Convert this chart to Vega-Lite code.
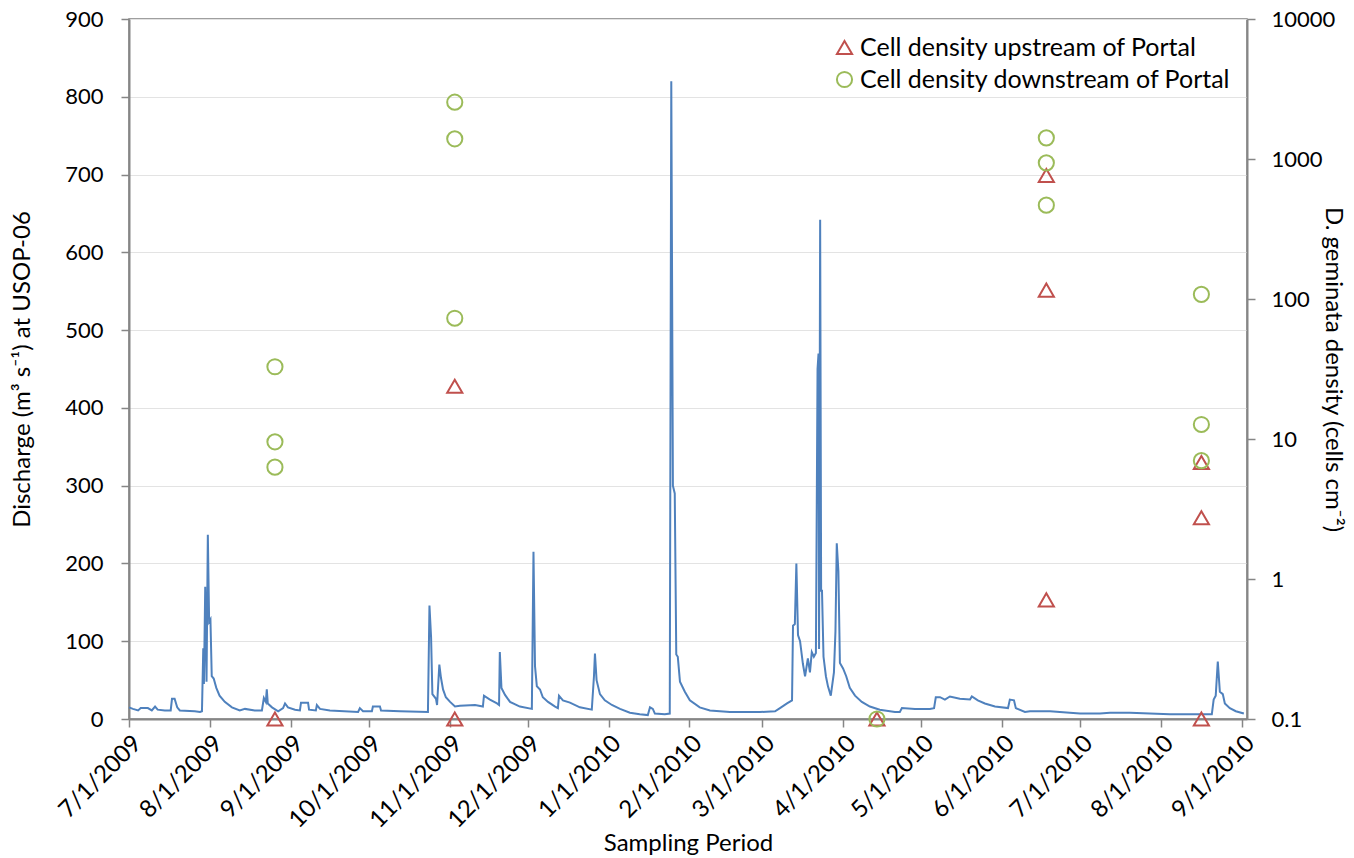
{
  "$schema": "https://vega.github.io/schema/vega-lite/v6.json",
  "width": 1118,
  "height": 700,
  "autosize": {"type": "none"},
  "padding": {"left": 129, "top": 19, "right": 107, "bottom": 139},
  "config": {
    "font": "Lato",
    "view": {"stroke": "#808080", "strokeWidth": 1.5},
    "axis": {
      "labelFont": "Lato",
      "labelFontSize": 22,
      "labelColor": "#000000",
      "titleFont": "Lato",
      "titleFontSize": 24,
      "titleFontWeight": "normal",
      "titleColor": "#000000",
      "domainColor": "#868686",
      "domainWidth": 2,
      "tickColor": "#868686",
      "tickWidth": 1.5,
      "tickSize": 8,
      "gridColor": "#E3E3E3",
      "gridWidth": 1
    }
  },
  "layer": [
    {
      "data": {
        "values": [
          {"date": "2009-07-01T00:00", "discharge": 15},
          {"date": "2009-07-02T12:00", "discharge": 13},
          {"date": "2009-07-04T12:00", "discharge": 11},
          {"date": "2009-07-05T12:00", "discharge": 14},
          {"date": "2009-07-08T06:00", "discharge": 14},
          {"date": "2009-07-09T18:00", "discharge": 11},
          {"date": "2009-07-11T00:00", "discharge": 16},
          {"date": "2009-07-12T00:00", "discharge": 12},
          {"date": "2009-07-14T18:00", "discharge": 11},
          {"date": "2009-07-17T00:00", "discharge": 11},
          {"date": "2009-07-17T12:00", "discharge": 26},
          {"date": "2009-07-18T12:00", "discharge": 26},
          {"date": "2009-07-19T12:00", "discharge": 15},
          {"date": "2009-07-20T12:00", "discharge": 11},
          {"date": "2009-07-26T06:00", "discharge": 10},
          {"date": "2009-07-28T06:00", "discharge": 9},
          {"date": "2009-07-29T00:00", "discharge": 10},
          {"date": "2009-07-29T12:00", "discharge": 91},
          {"date": "2009-07-29T18:00", "discharge": 45},
          {"date": "2009-07-30T06:00", "discharge": 170},
          {"date": "2009-07-30T18:00", "discharge": 48},
          {"date": "2009-07-31T06:00", "discharge": 237},
          {"date": "2009-07-31T18:00", "discharge": 125},
          {"date": "2009-08-01T06:00", "discharge": 128},
          {"date": "2009-08-01T18:00", "discharge": 55},
          {"date": "2009-08-02T12:00", "discharge": 52},
          {"date": "2009-08-03T12:00", "discharge": 40},
          {"date": "2009-08-04T18:00", "discharge": 30},
          {"date": "2009-08-06T18:00", "discharge": 22},
          {"date": "2009-08-09T12:00", "discharge": 15},
          {"date": "2009-08-12T12:00", "discharge": 11},
          {"date": "2009-08-14T12:00", "discharge": 13},
          {"date": "2009-08-18T06:00", "discharge": 11},
          {"date": "2009-08-21T00:00", "discharge": 11},
          {"date": "2009-08-21T18:00", "discharge": 27},
          {"date": "2009-08-22T12:00", "discharge": 22},
          {"date": "2009-08-22T21:00", "discharge": 38},
          {"date": "2009-08-23T06:00", "discharge": 20},
          {"date": "2009-08-24T21:00", "discharge": 15},
          {"date": "2009-08-27T06:00", "discharge": 10},
          {"date": "2009-08-29T03:00", "discharge": 14},
          {"date": "2009-08-29T21:00", "discharge": 20},
          {"date": "2009-08-31T00:00", "discharge": 15},
          {"date": "2009-09-02T17:00", "discharge": 12},
          {"date": "2009-09-04T14:00", "discharge": 11},
          {"date": "2009-09-05T00:00", "discharge": 21},
          {"date": "2009-09-07T17:00", "discharge": 21},
          {"date": "2009-09-08T02:00", "discharge": 12},
          {"date": "2009-09-10T17:00", "discharge": 11},
          {"date": "2009-09-11T02:00", "discharge": 18},
          {"date": "2009-09-12T07:00", "discharge": 13},
          {"date": "2009-09-16T02:00", "discharge": 11},
          {"date": "2009-09-26T22:00", "discharge": 9},
          {"date": "2009-09-27T14:00", "discharge": 14},
          {"date": "2009-09-28T19:00", "discharge": 10},
          {"date": "2009-10-02T05:00", "discharge": 10},
          {"date": "2009-10-02T14:00", "discharge": 16},
          {"date": "2009-10-05T07:00", "discharge": 16},
          {"date": "2009-10-05T17:00", "discharge": 11},
          {"date": "2009-10-13T00:00", "discharge": 10},
          {"date": "2009-10-23T17:00", "discharge": 9},
          {"date": "2009-10-24T07:00", "discharge": 146},
          {"date": "2009-10-24T22:00", "discharge": 105},
          {"date": "2009-10-25T10:00", "discharge": 32},
          {"date": "2009-10-26T19:00", "discharge": 26},
          {"date": "2009-10-27T05:00", "discharge": 18},
          {"date": "2009-10-28T02:00", "discharge": 70},
          {"date": "2009-10-28T17:00", "discharge": 53},
          {"date": "2009-10-29T12:00", "discharge": 38},
          {"date": "2009-10-30T14:00", "discharge": 28},
          {"date": "2009-11-01T05:00", "discharge": 22},
          {"date": "2009-11-03T02:00", "discharge": 16},
          {"date": "2009-11-05T00:00", "discharge": 17},
          {"date": "2009-11-10T19:00", "discharge": 18},
          {"date": "2009-11-13T19:00", "discharge": 16},
          {"date": "2009-11-14T05:00", "discharge": 30},
          {"date": "2009-11-16T12:00", "discharge": 25},
          {"date": "2009-11-19T05:00", "discharge": 20},
          {"date": "2009-11-20T00:00", "discharge": 18},
          {"date": "2009-11-20T07:00", "discharge": 86},
          {"date": "2009-11-20T22:00", "discharge": 40},
          {"date": "2009-11-22T07:00", "discharge": 31},
          {"date": "2009-11-24T05:00", "discharge": 22},
          {"date": "2009-11-28T00:00", "discharge": 16},
          {"date": "2009-12-02T14:00", "discharge": 13},
          {"date": "2009-12-03T05:00", "discharge": 215},
          {"date": "2009-12-03T19:00", "discharge": 68},
          {"date": "2009-12-04T12:00", "discharge": 42},
          {"date": "2009-12-05T17:00", "discharge": 38},
          {"date": "2009-12-06T19:00", "discharge": 28},
          {"date": "2009-12-08T19:00", "discharge": 22},
          {"date": "2009-12-11T12:00", "discharge": 16},
          {"date": "2009-12-12T14:00", "discharge": 14},
          {"date": "2009-12-13T00:00", "discharge": 30},
          {"date": "2009-12-14T12:00", "discharge": 24},
          {"date": "2009-12-17T05:00", "discharge": 21},
          {"date": "2009-12-21T00:00", "discharge": 15},
          {"date": "2009-12-25T14:00", "discharge": 12},
          {"date": "2009-12-26T10:00", "discharge": 55},
          {"date": "2009-12-26T19:00", "discharge": 84},
          {"date": "2009-12-27T10:00", "discharge": 50},
          {"date": "2009-12-28T17:00", "discharge": 32},
          {"date": "2009-12-30T14:00", "discharge": 24},
          {"date": "2010-01-02T07:00", "discharge": 18},
          {"date": "2010-01-05T10:00", "discharge": 13},
          {"date": "2010-01-09T05:00", "discharge": 8},
          {"date": "2010-01-13T00:00", "discharge": 6},
          {"date": "2010-01-16T02:00", "discharge": 5},
          {"date": "2010-01-16T22:00", "discharge": 15},
          {"date": "2010-01-18T00:00", "discharge": 13},
          {"date": "2010-01-18T19:00", "discharge": 7},
          {"date": "2010-01-22T14:00", "discharge": 6},
          {"date": "2010-01-24T12:00", "discharge": 7},
          {"date": "2010-01-25T02:00", "discharge": 820},
          {"date": "2010-01-25T17:00", "discharge": 300},
          {"date": "2010-01-26T10:00", "discharge": 290},
          {"date": "2010-01-27T00:00", "discharge": 83},
          {"date": "2010-01-27T14:00", "discharge": 80},
          {"date": "2010-01-28T10:00", "discharge": 48},
          {"date": "2010-01-30T07:00", "discharge": 35},
          {"date": "2010-02-01T05:00", "discharge": 24},
          {"date": "2010-02-05T00:00", "discharge": 15},
          {"date": "2010-02-08T22:00", "discharge": 11},
          {"date": "2010-02-16T14:00", "discharge": 9},
          {"date": "2010-02-28T02:00", "discharge": 9},
          {"date": "2010-03-05T22:00", "discharge": 10},
          {"date": "2010-03-07T19:00", "discharge": 14},
          {"date": "2010-03-10T12:00", "discharge": 20},
          {"date": "2010-03-12T10:00", "discharge": 24},
          {"date": "2010-03-12T19:00", "discharge": 120},
          {"date": "2010-03-13T12:00", "discharge": 122},
          {"date": "2010-03-14T02:00", "discharge": 200},
          {"date": "2010-03-14T17:00", "discharge": 108},
          {"date": "2010-03-15T12:00", "discharge": 100},
          {"date": "2010-03-16T14:00", "discharge": 71},
          {"date": "2010-03-17T10:00", "discharge": 55},
          {"date": "2010-03-18T12:00", "discharge": 78},
          {"date": "2010-03-19T07:00", "discharge": 60},
          {"date": "2010-03-20T00:00", "discharge": 86},
          {"date": "2010-03-20T19:00", "discharge": 80},
          {"date": "2010-03-21T14:00", "discharge": 85},
          {"date": "2010-03-22T05:00", "discharge": 450},
          {"date": "2010-03-22T14:00", "discharge": 470},
          {"date": "2010-03-22T19:00", "discharge": 90},
          {"date": "2010-03-23T05:00", "discharge": 642},
          {"date": "2010-03-23T14:00", "discharge": 165},
          {"date": "2010-03-23T22:00", "discharge": 165},
          {"date": "2010-03-24T12:00", "discharge": 80},
          {"date": "2010-03-25T10:00", "discharge": 55},
          {"date": "2010-03-26T05:00", "discharge": 42},
          {"date": "2010-03-27T07:00", "discharge": 30},
          {"date": "2010-03-28T12:00", "discharge": 60},
          {"date": "2010-03-29T02:00", "discharge": 113},
          {"date": "2010-03-29T14:00", "discharge": 226},
          {"date": "2010-03-30T05:00", "discharge": 190},
          {"date": "2010-03-30T19:00", "discharge": 72},
          {"date": "2010-04-01T00:00", "discharge": 65},
          {"date": "2010-04-02T05:00", "discharge": 55},
          {"date": "2010-04-03T14:00", "discharge": 40},
          {"date": "2010-04-05T14:00", "discharge": 30},
          {"date": "2010-04-08T05:00", "discharge": 22},
          {"date": "2010-04-11T07:00", "discharge": 16},
          {"date": "2010-04-15T02:00", "discharge": 12},
          {"date": "2010-04-20T22:00", "discharge": 9},
          {"date": "2010-04-22T19:00", "discharge": 9},
          {"date": "2010-04-23T14:00", "discharge": 14},
          {"date": "2010-04-28T14:00", "discharge": 13},
          {"date": "2010-05-04T07:00", "discharge": 13},
          {"date": "2010-05-05T22:00", "discharge": 14},
          {"date": "2010-05-06T14:00", "discharge": 28},
          {"date": "2010-05-08T05:00", "discharge": 28},
          {"date": "2010-05-10T02:00", "discharge": 25},
          {"date": "2010-05-12T00:00", "discharge": 29},
          {"date": "2010-05-15T19:00", "discharge": 26},
          {"date": "2010-05-19T17:00", "discharge": 25},
          {"date": "2010-05-20T10:00", "discharge": 29},
          {"date": "2010-05-22T17:00", "discharge": 24},
          {"date": "2010-05-25T10:00", "discharge": 20},
          {"date": "2010-05-29T07:00", "discharge": 16},
          {"date": "2010-06-03T07:00", "discharge": 14},
          {"date": "2010-06-04T00:00", "discharge": 25},
          {"date": "2010-06-05T14:00", "discharge": 24},
          {"date": "2010-06-06T07:00", "discharge": 14},
          {"date": "2010-06-09T19:00", "discharge": 9},
          {"date": "2010-06-11T17:00", "discharge": 10},
          {"date": "2010-06-19T10:00", "discharge": 10},
          {"date": "2010-06-27T00:00", "discharge": 8},
          {"date": "2010-06-30T22:00", "discharge": 7},
          {"date": "2010-07-08T14:00", "discharge": 7},
          {"date": "2010-07-12T10:00", "discharge": 8},
          {"date": "2010-07-20T02:00", "discharge": 8},
          {"date": "2010-07-27T17:00", "discharge": 7},
          {"date": "2010-08-04T10:00", "discharge": 6},
          {"date": "2010-08-14T00:00", "discharge": 6},
          {"date": "2010-08-20T12:00", "discharge": 6},
          {"date": "2010-08-21T05:00", "discharge": 25},
          {"date": "2010-08-22T00:00", "discharge": 30},
          {"date": "2010-08-22T19:00", "discharge": 74},
          {"date": "2010-08-23T14:00", "discharge": 35},
          {"date": "2010-08-24T17:00", "discharge": 32},
          {"date": "2010-08-25T12:00", "discharge": 20},
          {"date": "2010-08-27T10:00", "discharge": 14},
          {"date": "2010-08-29T17:00", "discharge": 10},
          {"date": "2010-09-01T19:00", "discharge": 7}
        ]
      },
      "mark": {"type": "line", "color": "#4F81BD", "strokeWidth": 2},
      "encoding": {
        "x": {
          "field": "date",
          "type": "temporal",
          "scale": {"domain": ["2009-07-01T00:00", "2010-09-03T00:00"]},
          "axis": {
            "title": "Sampling Period",
            "format": "%-m/%-d/%Y",
            "tickCount": {"interval": "month", "step": 1},
            "labelAngle": -45,
            "labelFontSize": 24,
            "labelPadding": 4,
            "labelOverlap": false,
            "labelBound": false,
            "grid": false,
            "titleFontSize": 24,
            "titlePadding": -1
          }
        },
        "y": {
          "field": "discharge",
          "type": "quantitative",
          "scale": {"domain": [0, 900]},
          "axis": {
            "title": "Discharge (m³ s⁻¹) at USOP-06",
            "values": [0, 100, 200, 300, 400, 500, 600, 700, 800, 900],
            "labelPadding": 18,
            "titlePadding": 30,
            "grid": true
          }
        }
      }
    },
    {
      "data": {
        "values": [
          {"date": "2009-08-26T00:00", "series": "Cell density upstream of Portal", "density": 0.1},
          {"date": "2009-11-03T00:00", "series": "Cell density upstream of Portal", "density": 0.1},
          {"date": "2009-11-03T00:00", "series": "Cell density upstream of Portal", "density": 23.8},
          {"date": "2010-04-14T00:00", "series": "Cell density upstream of Portal", "density": 0.1},
          {"date": "2010-06-18T00:00", "series": "Cell density upstream of Portal", "density": 762},
          {"date": "2010-06-18T00:00", "series": "Cell density upstream of Portal", "density": 115.6},
          {"date": "2010-06-18T00:00", "series": "Cell density upstream of Portal", "density": 0.71},
          {"date": "2010-08-16T12:00", "series": "Cell density upstream of Portal", "density": 0.1},
          {"date": "2010-08-16T12:00", "series": "Cell density upstream of Portal", "density": 2.74},
          {"date": "2010-08-16T12:00", "series": "Cell density upstream of Portal", "density": 6.8},
          {"date": "2009-08-26T00:00", "series": "Cell density downstream of Portal", "density": 32.8},
          {"date": "2009-08-26T00:00", "series": "Cell density downstream of Portal", "density": 9.55},
          {"date": "2009-08-26T00:00", "series": "Cell density downstream of Portal", "density": 6.29},
          {"date": "2009-11-03T00:00", "series": "Cell density downstream of Portal", "density": 2545},
          {"date": "2009-11-03T00:00", "series": "Cell density downstream of Portal", "density": 1394},
          {"date": "2009-11-03T00:00", "series": "Cell density downstream of Portal", "density": 72.9},
          {"date": "2010-04-14T00:00", "series": "Cell density downstream of Portal", "density": 0.1},
          {"date": "2010-06-18T00:00", "series": "Cell density downstream of Portal", "density": 1417},
          {"date": "2010-06-18T00:00", "series": "Cell density downstream of Portal", "density": 939},
          {"date": "2010-06-18T00:00", "series": "Cell density downstream of Portal", "density": 468},
          {"date": "2010-08-16T12:00", "series": "Cell density downstream of Portal", "density": 108},
          {"date": "2010-08-16T12:00", "series": "Cell density downstream of Portal", "density": 12.7},
          {"date": "2010-08-16T12:00", "series": "Cell density downstream of Portal", "density": 7.0}
        ]
      },
      "mark": {"type": "point", "filled": false, "strokeWidth": 2, "size": 230, "opacity": 1, "clip": false},
      "encoding": {
        "x": {
          "field": "date",
          "type": "temporal",
          "axis": {
            "title": "Sampling Period",
            "format": "%-m/%-d/%Y",
            "tickCount": {"interval": "month", "step": 1},
            "labelAngle": -45,
            "labelFontSize": 24,
            "labelPadding": 4,
            "labelOverlap": false,
            "labelBound": false,
            "grid": false,
            "titleFontSize": 24,
            "titlePadding": -1
          }
        },
        "y": {
          "field": "density",
          "type": "quantitative",
          "scale": {"type": "log", "domain": [0.1, 10000]},
          "axis": {
            "orient": "right",
            "title": "D. geminata density (cells cm⁻²)",
            "values": [0.1, 1, 10, 100, 1000, 10000],
            "format": "~g",
            "labelPadding": 16,
            "titlePadding": -14,
            "titleFontSize": 24,
            "grid": false
          }
        },
        "color": {
          "field": "series",
          "type": "nominal",
          "scale": {
            "domain": ["Cell density upstream of Portal", "Cell density downstream of Portal"],
            "range": ["#C0504D", "#9BBB59"]
          },
          "legend": {
            "title": null,
            "orient": "top-right",
            "offset": 16,
            "padding": 0,
            "labelFont": "Lato",
            "labelFontSize": 25,
            "labelColor": "#000000",
            "labelLimit": 0,
            "labelOffset": 3,
            "symbolSize": 230,
            "symbolStrokeWidth": 2,
            "rowPadding": 6
          }
        },
        "shape": {
          "field": "series",
          "type": "nominal",
          "scale": {
            "domain": ["Cell density upstream of Portal", "Cell density downstream of Portal"],
            "range": ["triangle-up", "circle"]
          }
        }
      }
    }
  ],
  "resolve": {"scale": {"y": "independent"}}
}
